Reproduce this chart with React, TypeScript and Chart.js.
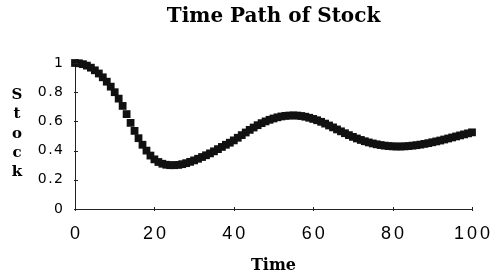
import React, { useEffect, useRef } from "react";
import { Chart, registerables } from "chart.js";

Chart.register(...registerables);

const times = [
  0, 1, 2, 3, 4, 5, 6, 7, 8, 9, 10, 11, 12, 13, 14, 15, 16, 17, 18, 19, 20,
  21, 22, 23, 24, 25, 26, 27, 28, 29, 30, 31, 32, 33, 34, 35, 36, 37, 38, 39, 40,
  41, 42, 43, 44, 45, 46, 47, 48, 49, 50, 51, 52, 53, 54, 55, 56, 57, 58, 59, 60,
  61, 62, 63, 64, 65, 66, 67, 68, 69, 70, 71, 72, 73, 74, 75, 76, 77, 78, 79, 80,
  81, 82, 83, 84, 85, 86, 87, 88, 89, 90, 91, 92, 93, 94, 95, 96, 97, 98, 99, 100,
];

const stock = [
  1.0, 0.998, 0.992, 0.982, 0.968, 0.95, 0.928, 0.902, 0.872, 0.838, 0.8,
  0.756, 0.706, 0.65, 0.59, 0.535, 0.485, 0.44, 0.4, 0.366, 0.34,
  0.322, 0.31, 0.303, 0.3, 0.3, 0.302, 0.307, 0.314, 0.323, 0.333,
  0.344, 0.356, 0.368, 0.381, 0.395, 0.41, 0.425, 0.44, 0.454, 0.47,
  0.488, 0.506, 0.524, 0.542, 0.558, 0.574, 0.588, 0.6, 0.611, 0.62,
  0.628, 0.634, 0.638, 0.64, 0.641, 0.64, 0.637, 0.632, 0.625, 0.617,
  0.608, 0.597, 0.585, 0.572, 0.559, 0.545, 0.532, 0.519, 0.506, 0.494,
  0.483, 0.473, 0.464, 0.456, 0.449, 0.443, 0.438, 0.434, 0.431, 0.429,
  0.428, 0.428, 0.429, 0.431, 0.434, 0.437, 0.441, 0.446, 0.451, 0.457,
  0.463, 0.469, 0.476, 0.483, 0.49, 0.497, 0.504, 0.511, 0.518, 0.525,
];

const xTickValues = [0, 20, 40, 60, 80, 100];
const xTickLabels = ["0", "20", "40", "60", "80", "100"];
const yTickValues = [0, 0.2, 0.4, 0.6, 0.8, 1];
const yTickLabels = ["0", "0.2", "0.4", "0.6", "0.8", "1"];

const chartTitle = "Time Path of Stock";
const xTitle = "Time";
const yTitle = "Stock";

function drawSpaced(
  ctx: CanvasRenderingContext2D,
  text: string,
  x: number,
  y: number,
  spacing: number,
  align: "left" | "center" | "right"
) {
  const chars = text.split("");
  const widths = chars.map((c) => ctx.measureText(c).width);
  const total = widths.reduce((a, b) => a + b, 0) + spacing * (chars.length - 1);
  let start = x;
  if (align === "center") start = x - total / 2;
  else if (align === "right") start = x - total;
  ctx.textAlign = "left";
  chars.forEach((c, i) => {
    ctx.fillText(c, start, y);
    start += widths[i] + spacing;
  });
}

const textPlugin = {
  id: "customText",
  afterDraw(chart: any) {
    const ctx: CanvasRenderingContext2D = chart.ctx;
    const area = chart.chartArea;
    const xs = chart.scales.x;
    const ys = chart.scales.y;
    ctx.save();
    ctx.fillStyle = "#000";
    ctx.strokeStyle = "#222";
    ctx.lineWidth = 1;

    // tick marks
    xTickValues.forEach((v) => {
      const px = Math.round(xs.getPixelForValue(v)) + 0.5;
      ctx.beginPath();
      ctx.moveTo(px, area.bottom - 2);
      ctx.lineTo(px, area.bottom + 2);
      ctx.stroke();
    });
    yTickValues.forEach((v) => {
      const py = Math.round(ys.getPixelForValue(v)) + 0.5;
      ctx.beginPath();
      ctx.moveTo(area.left - 1, py);
      ctx.lineTo(area.left + 3, py);
      ctx.stroke();
    });

    // title
    ctx.textBaseline = "middle";
    ctx.font = "bold 20px 'DejaVu Serif'";
    ctx.textAlign = "center";
    ctx.fillText(chartTitle, (area.left + area.right) / 2, 17);

    // x tick labels
    ctx.font = "18px 'Liberation Sans'";
    xTickValues.forEach((v, i) => {
      drawSpaced(ctx, xTickLabels[i], xs.getPixelForValue(v), 234, 3, "center");
    });

    // y tick labels
    ctx.font = "14px 'DejaVu Sans'";
    yTickValues.forEach((v, i) => {
      drawSpaced(ctx, yTickLabels[i], 63, ys.getPixelForValue(v), 1.5, "right");
    });

    // x title
    ctx.font = "bold 16px 'DejaVu Serif'";
    ctx.textAlign = "center";
    ctx.fillText(xTitle, (area.left + area.right) / 2, 266);

    // y title stacked letters
    ctx.font = "bold 15px 'DejaVu Serif'";
    ctx.textBaseline = "alphabetic";
    ctx.textAlign = "center";
    yTitle.split("").forEach((c, i) => {
      ctx.fillText(c, 17, 99 + i * 19.3);
    });
    ctx.restore();
  },
};

export default function App() {
  const ref = useRef<HTMLCanvasElement>(null);
  useEffect(() => {
    if (!ref.current) return;
    const chart = new Chart(ref.current, {
      type: "line",
      data: {
        labels: times,
        datasets: [
          {
            data: stock,
            showLine: false,
            pointStyle: "rect",
            pointRadius: 5.5,
            pointBackgroundColor: "#111",
            pointBorderColor: "#111",
            pointBorderWidth: 0,
            clip: false as any,
          },
        ],
      },
      options: {
        animation: false,
        responsive: false,
        devicePixelRatio: 1,
        layout: { padding: { left: 75, right: 21, top: 63, bottom: 70 } },
        plugins: {
          legend: { display: false },
          title: { display: false },
          tooltip: { enabled: false },
        },
        scales: {
          x: {
            type: "linear",
            min: 0,
            max: 100,
            grid: { display: false, drawTicks: false },
            border: { display: true, color: "#222", width: 1 },
            ticks: { display: false, stepSize: 20 },
            afterBuildTicks: (scale: any) => {
              scale.ticks = xTickValues.map((v) => ({ value: v }));
            },
          },
          y: {
            type: "linear",
            min: 0,
            max: 1,
            grid: { display: false, drawTicks: false },
            border: { display: true, color: "#222", width: 1 },
            ticks: { display: false, stepSize: 0.2 },
            afterBuildTicks: (scale: any) => {
              scale.ticks = yTickValues.map((v) => ({ value: v }));
            },
          },
        },
      },
      plugins: [textPlugin],
    });
    return () => chart.destroy();
  }, []);
  return (
    <div style={{ position: "fixed", left: 0, top: 0, width: 493, height: 279, background: "#fff" }}>
      <canvas ref={ref} width={493} height={279} style={{ display: "block" }} />
    </div>
  );
}
